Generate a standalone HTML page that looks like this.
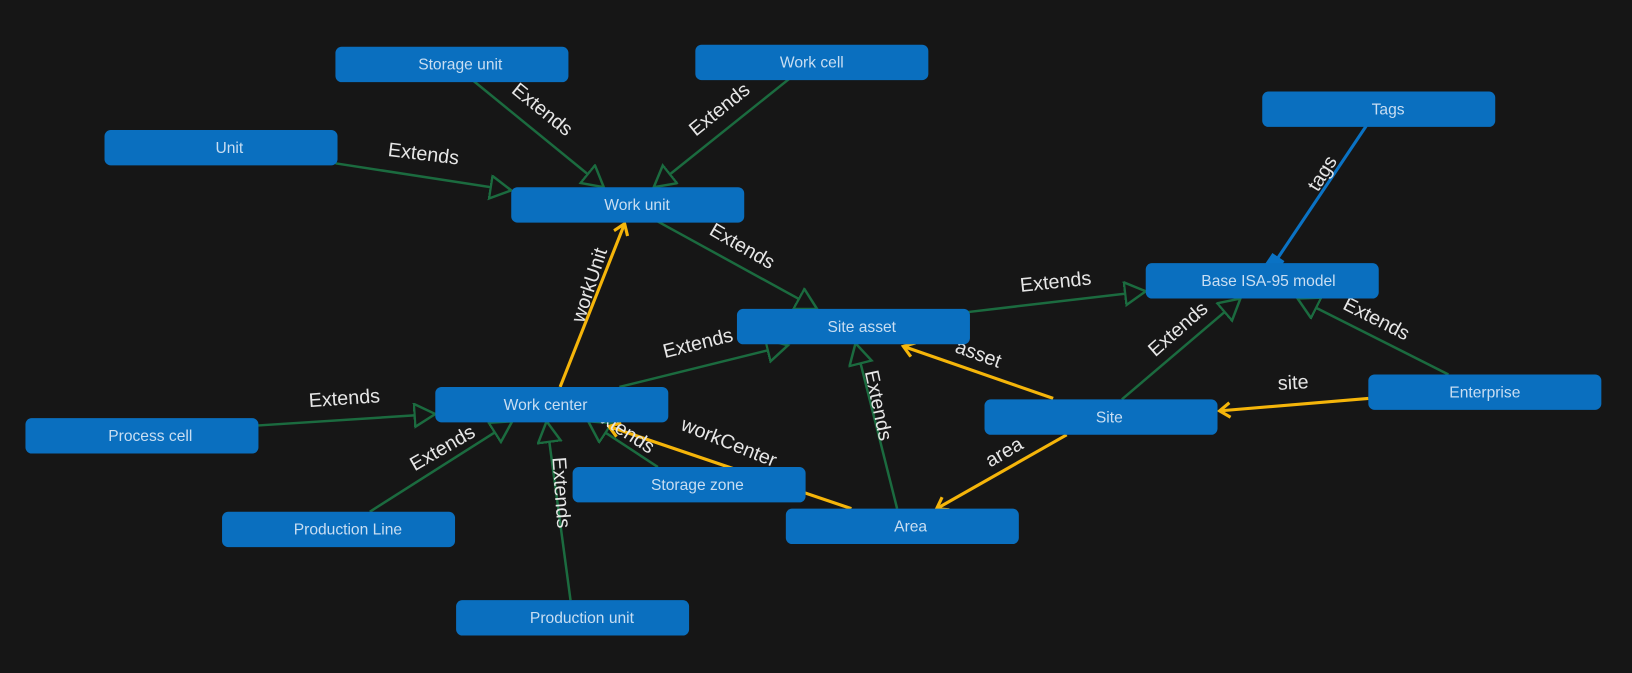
<!DOCTYPE html>
<html><head><meta charset="utf-8"><style>
html,body{margin:0;padding:0;background:#161616;}
svg{display:block;}
text{font-family:"Liberation Sans",sans-serif;}
</style></head><body>
<svg width="1632" height="673" viewBox="0 0 1568 647" xmlns="http://www.w3.org/2000/svg">
<defs>
<marker id="tri" markerUnits="userSpaceOnUse" markerWidth="30" markerHeight="30" refX="21" refY="12" orient="auto">
<path d="M1,1 L21,12 L1,23 Z" fill="#161616" stroke="#1b6b3f" stroke-width="2.4"/>
</marker>
<marker id="chev" markerUnits="userSpaceOnUse" markerWidth="20" markerHeight="20" refX="12" refY="8" orient="auto">
<path d="M2,1 L12,8 L2,15" fill="none" stroke="#f5b50a" stroke-width="3"/>
</marker>
<marker id="sq" markerUnits="userSpaceOnUse" markerWidth="20" markerHeight="20" refX="3" refY="8" orient="auto">
<rect x="2" y="1" width="14" height="14" fill="#0a72c4"/>
</marker>
</defs>
<rect width="1568" height="647" fill="#161616"/>
<g stroke="#1b6b3f" stroke-width="2.4" fill="none">
<line x1="455" y1="78" x2="580" y2="180" marker-end="url(#tri)"/>
<line x1="758" y1="76" x2="628" y2="180" marker-end="url(#tri)"/>
<line x1="322" y1="157" x2="491" y2="183" marker-end="url(#tri)"/>
<line x1="632" y1="213" x2="785" y2="297" marker-end="url(#tri)"/>
<line x1="930" y1="300" x2="1101" y2="280" marker-end="url(#tri)"/>
<line x1="1078" y1="384" x2="1192" y2="287" marker-end="url(#tri)"/>
<line x1="1392" y1="360" x2="1247" y2="287" marker-end="url(#tri)"/>
<line x1="595" y1="372" x2="757" y2="332" marker-end="url(#tri)"/>
<line x1="248" y1="409" x2="418" y2="398" marker-end="url(#tri)"/>
<line x1="355" y1="492" x2="492" y2="405" marker-end="url(#tri)"/>
<line x1="548" y1="577" x2="525" y2="405" marker-end="url(#tri)"/>
<line x1="632" y1="449" x2="565" y2="405" marker-end="url(#tri)"/>
<line x1="862" y1="489" x2="822" y2="330" marker-end="url(#tri)"/>
</g>
<g stroke="#f5b50a" stroke-width="3" fill="none">
<line x1="538" y1="372" x2="600" y2="215" marker-end="url(#chev)"/>
<line x1="1012" y1="383" x2="868" y2="333" marker-end="url(#chev)"/>
<line x1="1315" y1="383" x2="1172" y2="395" marker-end="url(#chev)"/>
<line x1="1025" y1="418" x2="900" y2="489" marker-end="url(#chev)"/>
<line x1="818" y1="489" x2="585" y2="410" marker-end="url(#chev)"/>
</g>
<line x1="1313" y1="121" x2="1228" y2="248" stroke="#0a72c4" stroke-width="3" marker-end="url(#sq)"/>
<g fill="#e6e6e6" font-size="19" text-anchor="middle">
<text transform="translate(517,110) rotate(39)">Extends</text>
<text transform="translate(695,110) rotate(-39)">Extends</text>
<text transform="translate(406,154) rotate(7)">Extends</text>
<text transform="translate(710,242) rotate(30)">Extends</text>
<text transform="translate(1015,277) rotate(-6)">Extends</text>
<text transform="translate(1136,321) rotate(-41)">Extends</text>
<text transform="translate(1320,312) rotate(27)">Extends</text>
<text transform="translate(672,336) rotate(-14)">Extends</text>
<text transform="translate(331,389) rotate(-4)">Extends</text>
<text transform="translate(428,436) rotate(-30)">Extends</text>
<text transform="translate(533,474) rotate(86)">Extends</text>
<text transform="translate(595,418) rotate(33)">Extends</text>
<text transform="translate(838,391) rotate(78)">Extends</text>
<text transform="translate(572,276) rotate(-72)">workUnit</text>
<text transform="translate(938,346) rotate(20)">asset</text>
<text transform="translate(1243,374) rotate(-3)">site</text>
<text transform="translate(968,440) rotate(-30)">area</text>
<text transform="translate(698,431) rotate(22)">workCenter</text>
<text transform="translate(1276,170) rotate(-58)">tags</text>
</g>
<g fill="#0a6fbf">
<rect x="322" y="45" width="224" height="34" rx="6"/>
<rect x="668" y="43" width="224" height="34" rx="6"/>
<rect x="100" y="125" width="224" height="34" rx="6"/>
<rect x="491" y="180" width="224" height="34" rx="6"/>
<rect x="1213" y="88" width="224" height="34" rx="6"/>
<rect x="1101" y="253" width="224" height="34" rx="6"/>
<rect x="708" y="297" width="224" height="34" rx="6"/>
<rect x="418" y="372" width="224" height="34" rx="6"/>
<rect x="24" y="402" width="224" height="34" rx="6"/>
<rect x="946" y="384" width="224" height="34" rx="6"/>
<rect x="1315" y="360" width="224" height="34" rx="6"/>
<rect x="550" y="449" width="224" height="34" rx="6"/>
<rect x="755" y="489" width="224" height="34" rx="6"/>
<rect x="213" y="492" width="224" height="34" rx="6"/>
<rect x="438" y="577" width="224" height="34" rx="6"/>
</g>
<g fill="#c9def2" font-size="15" text-anchor="middle">
<text x="442" y="67">Storage unit</text>
<text x="780" y="65">Work cell</text>
<text x="220" y="147">Unit</text>
<text x="612" y="202">Work unit</text>
<text x="1334" y="110">Tags</text>
<text x="1219" y="275">Base ISA-95 model</text>
<text x="828" y="319">Site asset</text>
<text x="524" y="394">Work center</text>
<text x="144" y="424">Process cell</text>
<text x="1066" y="406">Site</text>
<text x="1427" y="382">Enterprise</text>
<text x="670" y="471">Storage zone</text>
<text x="875" y="511">Area</text>
<text x="334" y="514">Production Line</text>
<text x="559" y="599">Production unit</text>
</g>
</svg>
</body></html>
